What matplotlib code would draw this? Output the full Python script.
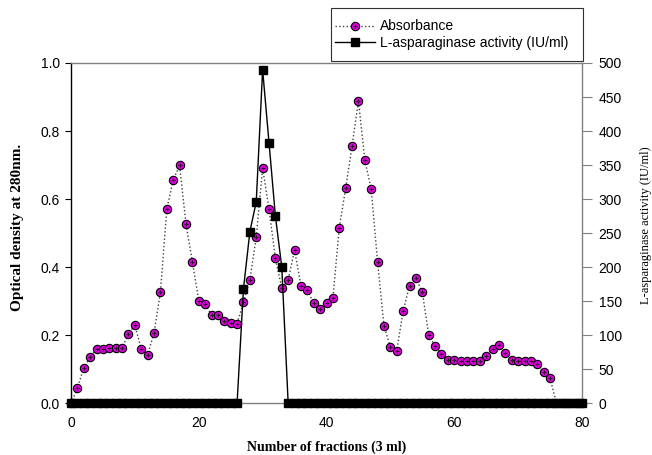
import matplotlib
matplotlib.use("Agg")
import matplotlib.pyplot as plt
from matplotlib.patches import Rectangle

# fraction numbers (3 ml each)
fractions = list(range(0, 81))

# optical density at 280 nm for each fraction
absorbance = [
    0.000, 0.044, 0.105, 0.135, 0.159, 0.161, 0.163, 0.163, 0.163, 0.205,
    0.229, 0.160, 0.143, 0.207, 0.326, 0.571, 0.656, 0.699, 0.527, 0.416,
    0.302, 0.291, 0.260, 0.259, 0.242, 0.237, 0.234, 0.297, 0.362, 0.489,
    0.691, 0.571, 0.426, 0.338, 0.363, 0.450, 0.346, 0.332, 0.294, 0.278,
    0.296, 0.309, 0.516, 0.632, 0.756, 0.889, 0.715, 0.629, 0.415, 0.228,
    0.165, 0.155, 0.271, 0.346, 0.368, 0.326, 0.202, 0.168, 0.146, 0.126,
    0.126, 0.125, 0.124, 0.124, 0.123, 0.139, 0.161, 0.171, 0.147, 0.126,
    0.125, 0.124, 0.123, 0.116, 0.093, 0.074, 0.000, 0.000, 0.000, 0.000,
    0.000,
]

# L-asparaginase activity (IU/ml), only fractions 27-33 are active
activity = [0] * 27 + [168, 252, 296, 490, 383, 275, 200] + [0] * 47

x_ticks = [0, 20, 40, 60, 80]
od_ticks = [0.0, 0.2, 0.4, 0.6, 0.8, 1.0]
act_ticks = list(range(0, 501, 50))

SANS = "Liberation Sans"
SERIF = "Liberation Serif"
GRAY = "#808080"

W, H = 652, 455
fig = plt.figure(figsize=(W / 100, H / 100), dpi=100)
ax = fig.add_axes([71 / W, 1 - 403.3 / H, 511 / W, 340.3 / H])
ax2 = ax.twinx()

# absorbance: dotted line with magenta dots
abs_line, = ax.plot(
    fractions, absorbance, linestyle=":", color="#404040", linewidth=1.0,
    marker="o", markersize=6, markerfacecolor="#dd00dd",
    markeredgecolor="black", markeredgewidth=0.8, clip_on=False, zorder=3,
)
abs_dot, = ax.plot(
    fractions, absorbance, linestyle="none", marker="+", markersize=3,
    color="#202020", markeredgewidth=0.8, clip_on=False, zorder=4,
)

# enzyme activity on the right axis
act_line, = ax2.plot(
    fractions, activity, linestyle="-", color="black", linewidth=1.0,
    marker="s", markersize=6, markerfacecolor="black",
    markeredgecolor="black", clip_on=False, zorder=3,
)

ax.set_xlim(0, 80)
ax.set_ylim(0, 1.0)
ax2.set_ylim(0, 500)

ax.set_xticks(x_ticks)
ax.set_xticklabels([str(t) for t in x_ticks], fontfamily=SANS, fontsize=10)
ax.set_yticks(od_ticks)
ax.set_yticklabels([f"{t:.1f}" for t in od_ticks], fontfamily=SANS, fontsize=10)
ax2.set_yticks(act_ticks)
ax2.set_yticklabels([str(t) for t in act_ticks], fontfamily=SANS, fontsize=10)

ax.tick_params(axis="x", direction="out", length=2.5, width=0.8, pad=7, color=GRAY)
ax.tick_params(axis="y", direction="out", length=4, width=0.8, pad=4, color="black")
ax2.tick_params(axis="y", direction="out", length=7, width=0.8, pad=5, color=GRAY)

ax.spines["right"].set_visible(False)
ax.spines["left"].set_color("black")
ax.spines["top"].set_color(GRAY)
ax.spines["bottom"].set_color(GRAY)
for side in ["left", "top", "bottom"]:
    ax2.spines[side].set_visible(False)
ax2.spines["right"].set_color(GRAY)
for s in ax.spines.values():
    s.set_linewidth(1.0)
ax2.spines["right"].set_linewidth(1.0)

# axis titles
fig.text(326.5 / W, 1 - 447 / H, "Number of fractions (3 ml)", fontfamily=SERIF,
         fontweight="bold", fontsize=10, ha="center", va="center")
fig.text(18 / W, 1 - 227.5 / H, "Optical density at 280nm.", fontfamily=SERIF,
         fontweight="bold", fontsize=11, rotation=90, ha="center", va="center")
fig.text(646 / W, 1 - 225 / H, "L-asparaginase activity (IU/ml)", fontfamily=SERIF,
         fontsize=9, rotation=90, ha="center", va="center")

# legend with its own box above the plot
fig.patches.append(Rectangle((331 / W, 1 - 61 / H), 252 / W, 53 / H,
                             transform=fig.transFigure, facecolor="white",
                             edgecolor="#303030", linewidth=0.8))
fig.legend(
    [(abs_line, abs_dot), act_line],
    ["Absorbance", "L-asparaginase activity (IU/ml)"],
    loc="upper left", bbox_to_anchor=(335 / W, 1 - 19.5 / H),
    frameon=False, borderpad=0, borderaxespad=0, handlelength=2.9,
    handletextpad=0.35, labelspacing=0.2, prop={"family": SANS, "size": 10},
)

fig.savefig("out.png", dpi=100)
